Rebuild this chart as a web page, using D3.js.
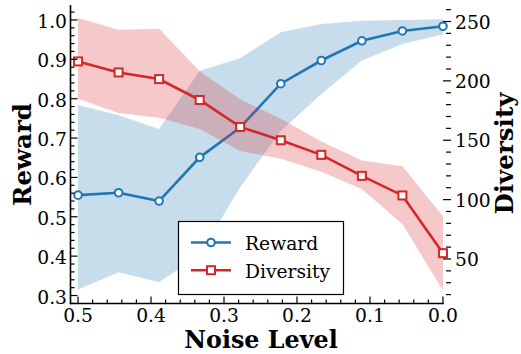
<!DOCTYPE html>
<html><head><meta charset="utf-8">
<script src="https://cdn.jsdelivr.net/npm/d3@7"></script>
<style>body{margin:0;background:#fff}svg{display:block}text{font-family:"DejaVu Serif",serif}</style>
</head><body><svg id="c" width="521" height="354"></svg>
<script>
const noise = [0.5, 0.4444, 0.3889, 0.3333, 0.2778, 0.2222, 0.1667, 0.1111, 0.0556, 0.0];
const rewardMean = [0.555, 0.561, 0.540, 0.651, 0.727, 0.838, 0.897, 0.947, 0.972, 0.984];
const rewardLow  = [0.315, 0.359, 0.334, 0.403, 0.575, 0.718, 0.812, 0.897, 0.939, 0.964];
const rewardHigh = [0.784, 0.758, 0.723, 0.871, 0.903, 0.969, 0.990, 0.998, 1.000, 1.002];
const diversityMean = [216.4, 207.1, 201.5, 183.9, 161.2, 150.0, 137.7, 120.0, 103.5, 54.9];
const diversityLow  = [185, 173, 169, 159.5, 141, 134.5, 123.5, 109, 79.5, 23.5];
const diversityHigh = [253, 243, 244, 208, 184.5, 168, 149, 133, 128, 86];
const xTicks = [0.5, 0.4, 0.3, 0.2, 0.1, 0.0];
const yLeftTicks = [0.3, 0.4, 0.5, 0.6, 0.7, 0.8, 0.9, 1.0];
const yRightTicks = [50, 100, 150, 200, 250];
const seriesNames = ["Reward", "Diversity"];

const blue = "#1f77b4", red = "#d62728";
const svg = d3.select("#c");
const L = 70.5, R = 451, T = 5, B = 303.5;
const x = d3.scaleLinear().domain([0.5103, -0.011]).range([L, R]);
const yL = d3.scaleLinear().domain([0.2797, 1.038]).range([B, T]);
const yR = d3.scaleLinear().domain([12.5, 263.9]).range([B, T]);
const FS = 18.7, TS = 24.5, XT = 23.8;

const idx = d3.range(noise.length);
const area = (lo, hi, ys) => d3.area().x(i => x(noise[i])).y0(i => ys(lo[i])).y1(i => ys(hi[i]));
const line = (v, ys) => d3.line().x(i => x(noise[i])).y(i => ys(v[i]));
const SQ = 8, CR = 3.8;

// Reward band + line
svg.append("path").attr("d", area(rewardLow, rewardHigh, yL)(idx)).attr("fill", blue).attr("fill-opacity", 0.25);
svg.append("path").attr("d", line(rewardMean, yL)(idx)).attr("fill", "none").attr("stroke", blue).attr("stroke-width", 2.6);
svg.selectAll(".rc").data(idx).join("circle").attr("cx", i => x(noise[i])).attr("cy", i => yL(rewardMean[i]))
  .attr("r", CR).attr("fill", "#fff").attr("stroke", blue).attr("stroke-width", 2);
// Diversity band + line
svg.append("path").attr("d", area(diversityLow, diversityHigh, yR)(idx)).attr("fill", red).attr("fill-opacity", 0.25);
svg.append("path").attr("d", line(diversityMean, yR)(idx)).attr("fill", "none").attr("stroke", red).attr("stroke-width", 2.6);
svg.selectAll(".ds").data(idx).join("rect").attr("x", i => x(noise[i]) - SQ / 2).attr("y", i => yR(diversityMean[i]) - SQ / 2)
  .attr("width", SQ).attr("height", SQ).attr("fill", "#fff").attr("stroke", red).attr("stroke-width", 2);

// Axes
const ax = svg.append("g").attr("stroke", "#000");
ax.append("line").attr("x1", L).attr("x2", L).attr("y1", T).attr("y2", B + 0.8).attr("stroke-width", 1.6);
ax.append("line").attr("x1", L - 0.8).attr("x2", x(0) + 1).attr("y1", B).attr("y2", B).attr("stroke-width", 1.6);

// bottom ticks
d3.range(0, 26).map(k => +(0.5 - k * 0.02).toFixed(2)).forEach(v => {
  const major = Math.abs(v * 10 - Math.round(v * 10)) < 1e-6;
  ax.append("line").attr("x1", x(v)).attr("x2", x(v)).attr("y1", B).attr("y2", B - (major ? 7 : 4)).attr("stroke-width", 1.2);
});
svg.append("g").selectAll("text").data(xTicks).join("text").attr("x", d => x(d)).attr("y", 321.5)
  .attr("text-anchor", "middle").attr("font-size", FS).text(d => d.toFixed(1));

// left ticks
d3.range(0, 38).map(k => +(0.28 + k * 0.02).toFixed(2)).filter(v => yL(v) >= T && yL(v) <= B).forEach(v => {
  const major = Math.abs(v * 10 - Math.round(v * 10)) < 1e-6;
  ax.append("line").attr("x1", L).attr("x2", L + (major ? 7 : 4)).attr("y1", yL(v)).attr("y2", yL(v)).attr("stroke-width", 1.2);
});
svg.append("g").selectAll("text").data(yLeftTicks).join("text").attr("x", 67).attr("y", d => yL(d) + 8)
  .attr("text-anchor", "end").attr("font-size", FS).text(d => d.toFixed(1));

// right ticks
d3.range(10, 270, 10).filter(v => yR(v) >= T && yR(v) <= B).forEach(v => {
  const major = v % 50 === 0;
  ax.append("line").attr("x1", R).attr("x2", R - (major ? 8 : 5)).attr("y1", yR(v)).attr("y2", yR(v)).attr("stroke-width", 1.2);
});
svg.append("g").selectAll("text").data(yRightTicks).join("text").attr("x", 455).attr("y", d => yR(d) + 7)
  .attr("text-anchor", "start").attr("font-size", FS).text(d => d);

// Axis titles
svg.append("text").attr("x", 261).attr("y", 348.2).attr("text-anchor", "middle")
  .attr("font-size", XT).attr("font-weight", "bold").text("Noise Level");
svg.append("text").attr("transform", "translate(31,154.5) rotate(-90)").attr("text-anchor", "middle")
  .attr("font-size", TS).attr("font-weight", "bold").text("Reward");
svg.append("text").attr("transform", "translate(513,153.5) rotate(-90)").attr("text-anchor", "middle")
  .attr("font-size", TS).attr("font-weight", "bold").text("Diversity");

// Legend
const lg = svg.append("g");
lg.append("rect").attr("x", 178.5).attr("y", 221.5).attr("width", 165).attr("height", 73)
  .attr("fill", "#fff").attr("stroke", "#000").attr("stroke-width", 1.2);
const ent = [[seriesNames[0], blue, "c"], [seriesNames[1], red, "s"]];
ent.forEach((e, k) => {
  const yy = 242.5 + k * 27.7;
  lg.append("line").attr("x1", 191).attr("x2", 231).attr("y1", yy).attr("y2", yy).attr("stroke", e[1]).attr("stroke-width", 2.6);
  if (e[2] === "c") lg.append("circle").attr("cx", 211).attr("cy", yy).attr("r", CR).attr("fill", "#fff").attr("stroke", e[1]).attr("stroke-width", 2);
  else lg.append("rect").attr("x", 211 - SQ / 2).attr("y", yy - SQ / 2).attr("width", SQ).attr("height", SQ).attr("fill", "#fff").attr("stroke", e[1]).attr("stroke-width", 2);
  lg.append("text").attr("x", 245).attr("y", yy + 7.5).attr("font-size", FS).text(e[0]);
});
</script></body></html>
